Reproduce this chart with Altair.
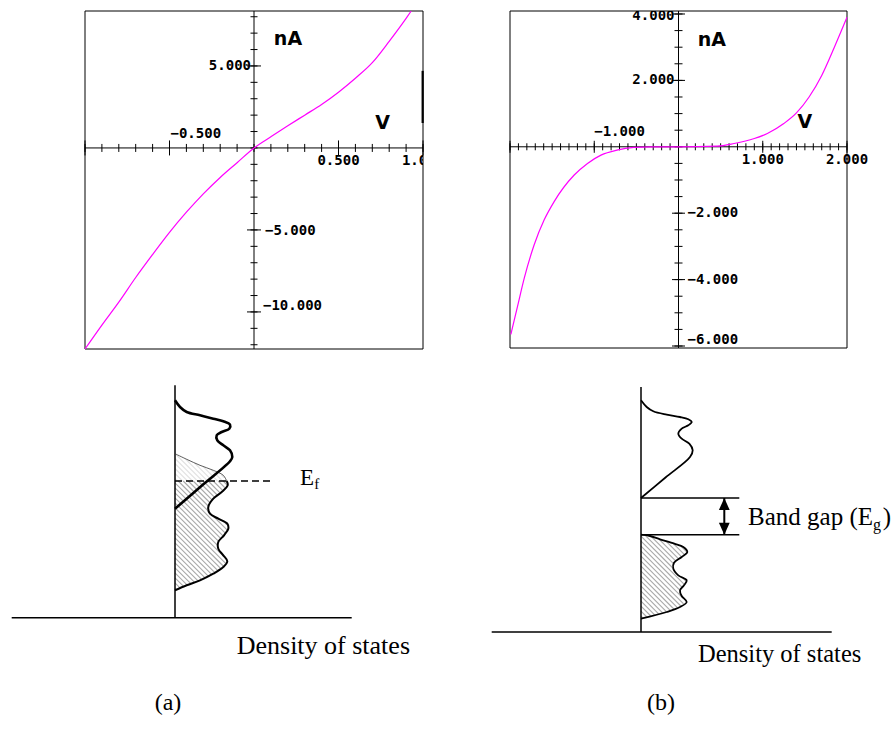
import altair as alt
import pandas as pd
import numpy as np

# ---------------- data ----------------
# (a) I-V curve (V in volts, I in nA)
iva_V = [-1.0, -0.9, -0.8, -0.7, -0.6, -0.5, -0.4, -0.3, -0.2, -0.1, 0.0,
         0.1, 0.2, 0.3, 0.4, 0.5, 0.6, 0.7, 0.8, 0.9, 0.93]
iva_I = [-12.26, -10.8, -9.4, -7.9, -6.5, -5.15, -3.92, -2.8, -1.8, -0.9, 0.0,
         0.68, 1.35, 2.0, 2.65, 3.4, 4.25, 5.2, 6.5, 7.9, 8.35]
iva_bar_V = [0.998, 0.998]
iva_bar_I = [4.7, 1.52]
iva_xdom = [-1.0, 1.0]
iva_ydom = [-12.26, 8.35]
iva_xminor = [round(-1 + 0.1 * i, 1) for i in range(21)]
iva_xmajor = [-1.0, -0.5, 0.5, 1.0]
iva_yminor = list(range(-12, 9))
iva_ymajor = [-10, -5, 5]
iva_ylab_left = ["5.000"]
iva_ylab_right = ["−5.000", "−10.000"]
iva_xlab = ["−0.500", "0.500", "1.000"]

# (b) I-V curve
ivb_V = [-1.99, -1.91, -1.83, -1.713, -1.594, -1.476, -1.238, -1.08, -0.92, -0.73, -0.53,
         -0.33, 0.0, 0.46, 0.66, 0.9, 1.055, 1.25, 1.4, 1.55, 1.7, 1.85, 2.0]
ivb_I = [-5.65, -4.8, -3.95, -2.95, -2.2, -1.65, -0.85, -0.5, -0.25, -0.1, -0.02,
         0.0, 0.0, 0.02, 0.1, 0.25, 0.4, 0.7, 1.02, 1.5, 2.15, 3.0, 3.9]
ivb_xdom = [-2.0, 2.0]
ivb_ydom = [-6.06, 4.09]
ivb_xminor = [round(-2 + 0.1 * i, 1) for i in range(41)]
ivb_xmajor = [-2.0, -1.0, 1.0, 2.0]
ivb_yminor = [round(-6 + 0.5 * i, 1) for i in range(21)]
ivb_ymajor = [-6, -4, -2, 2, 4]
ivb_ylab_left = ["4.000", "2.000"]
ivb_ylab_right = ["−2.000", "−4.000", "−6.000"]
ivb_xlab = ["−1.000", "1.000", "2.000"]

# (a) density of states schematic (arbitrary units)
dosa_up_x = [0, 0.1, 0.234, 0.5, 0.766, 0.966, 1.1, 1.086, 0.934, 0.834, 0.846, 0.966,
             1.1, 1.146, 1.1, 0.55, 0]
dosa_up_E = [4.348, 4.214, 4.114, 4.048, 3.98, 3.928, 3.86, 3.78, 3.714, 3.648, 3.548,
             3.448, 3.348, 3.214, 3.128, 2.654, 2.18]
dosa_thin_x = [0, 0.234, 0.5, 0.766, 0.966, 1.034]
dosa_thin_E = [3.28, 3.168, 3.048, 2.948, 2.848, 2.734]
dosa_low_x = [1.034, 1.054, 0.934, 0.766, 0.666, 0.7, 0.866, 1.046, 1.066, 0.98, 0.866,
              0.866, 0.966, 1.046, 0.966, 0.766, 0.5, 0.234, 0]
dosa_low_E = [2.734, 2.648, 2.514, 2.38, 2.214, 2.08, 1.98, 1.88, 1.78, 1.648, 1.514,
              1.38, 1.248, 1.128, 1.014, 0.88, 0.748, 0.648, 0.548]
dosa_Ef = 2.734
dosa_axis_top = 4.648
dosa_base = [-3.266, 3.534]

# (b) density of states schematic
dosb_up_x = [0, 0.114, 0.246, 0.514, 0.78, 0.946, 1.014, 0.946, 0.814, 0.746, 0.814,
             0.966, 1.034, 0.98, 0.49, 0]
dosb_up_E = [4.634, 4.5, 4.414, 4.346, 4.3, 4.254, 4.2, 4.134, 4.066, 3.966, 3.866,
             3.766, 3.634, 3.5, 3.09, 2.68]
dosb_low_x = [0, 0.18, 0.38, 0.666, 0.846, 0.926, 0.814, 0.66, 0.646, 0.746, 0.914,
              0.86, 0.78, 0.814, 0.914, 0.78, 0.514, 0]
dosb_low_E = [1.946, 1.92, 1.854, 1.766, 1.7, 1.6, 1.5, 1.386, 1.266, 1.134, 1.034,
              0.934, 0.834, 0.72, 0.6, 0.5, 0.4, 0.266]
dosb_gap = [1.946, 2.68]
dosb_gap_len = 1.966
dosb_arrow_x = 1.666
dosb_axis_top = 4.9
dosb_base = [-2.986, 3.814]

MONO = "DejaVu Sans Mono"
SANS = "DejaVu Sans"
SERIF = "Liberation Serif"


class Panel:
    def __init__(self, xdom, ydom, w, h):
        self.xs = alt.Scale(domain=xdom, nice=False, zero=False)
        self.ys = alt.Scale(domain=ydom, nice=False, zero=False)
        self.xdom, self.ydom, self.w, self.h = xdom, ydom, w, h
        self.ppx = w / (xdom[1] - xdom[0])
        self.ppy = h / (ydom[1] - ydom[0])
        self.layers = []

    def X(self, f):
        return alt.X(f, type="quantitative", scale=self.xs, axis=None)

    def Y(self, f):
        return alt.Y(f, type="quantitative", scale=self.ys, axis=None)

    def add(self, c):
        self.layers.append(c)

    def chart(self):
        return alt.layer(*self.layers).properties(width=self.w, height=self.h)


def curve(p, xs, ys, width, color="black", interp="catmull-rom", dash=None):
    df = pd.DataFrame({"x": xs, "y": ys, "i": list(range(len(xs)))})
    kw = dict(color=color, strokeWidth=width, interpolate=interp)
    if dash:
        kw["strokeDash"] = dash
    p.add(alt.Chart(df).mark_line(**kw).encode(x=p.X("x"), y=p.Y("y"), order="i:Q"))


def xticks(p, xs, half):
    h = half / p.ppy
    df = pd.DataFrame({"x": xs, "y0": [-h] * len(xs), "y1": [h] * len(xs)})
    p.add(alt.Chart(df).mark_rule(color="black", strokeWidth=1)
          .encode(x=p.X("x"), y=p.Y("y0"), y2="y1"))


def yticks(p, ys, half):
    h = half / p.ppx
    df = pd.DataFrame({"y": ys, "x0": [-h] * len(ys), "x1": [h] * len(ys)})
    p.add(alt.Chart(df).mark_rule(color="black", strokeWidth=1)
          .encode(y=p.Y("y"), x=p.X("x0"), x2="x1"))


def label(p, text, x, y, size, font, weight="normal", align="center", baseline="middle",
          dx=0, dy=0, clip=False):
    df = pd.DataFrame({"x": [x], "y": [y], "t": [text]})
    kw = dict(font=font, fontSize=size, fontWeight=weight, align=align, baseline=baseline,
              dx=dx, dy=dy, color="black")
    if clip:
        kw["clip"] = True
    p.add(alt.Chart(df).mark_text(**kw).encode(x=p.X("x"), y=p.Y("y"), text="t:N"))


def frame(p):
    df = pd.DataFrame({"x0": [p.xdom[0]], "x1": [p.xdom[1]], "y0": [p.ydom[0]], "y1": [p.ydom[1]]})
    p.add(alt.Chart(df).mark_rect(filled=False, color="black", strokeWidth=1)
          .encode(x=p.X("x0"), x2="x1", y=p.Y("y0"), y2="y1"))


def hatch(p, xs, ys, spacing=0.1, opacity=1.0, color="#a8a8a8", width=1.1):
    """Diagonal hatching of the region between the energy axis (x=0) and the DOS curve."""
    E = np.asarray(ys, float)
    Xv = np.asarray(xs, float)
    o = np.argsort(E)
    Es, Xs = E[o], Xv[o]
    emin, emax, xmax = Es[0], Es[-1], Xs.max()
    step = 0.004
    xx = np.arange(0, xmax + step, step)
    rows = []
    for c in np.arange(emin + spacing / 2, emax + xmax, spacing):
        ee = c - xx
        inside = (ee >= emin) & (ee <= emax) & (xx <= np.interp(ee, Es, Xs) - 0.01)
        idx = np.flatnonzero(inside)
        if idx.size == 0:
            continue
        breaks = np.flatnonzero(np.diff(idx) > 1)
        starts = np.concatenate([[idx[0]], idx[breaks + 1]])
        ends = np.concatenate([idx[breaks], [idx[-1]]])
        for s, e in zip(starts, ends):
            if e > s:
                rows.append({"x": xx[s], "y": c - xx[s], "x2": xx[e], "y2": c - xx[e]})
    df = pd.DataFrame(rows)
    p.add(alt.Chart(df).mark_rule(color=color, strokeWidth=width, opacity=opacity)
          .encode(x=p.X("x"), y=p.Y("y"), x2="x2", y2="y2"))


# ---------------- I-V panel (a) ----------------
A = Panel(iva_xdom, iva_ydom, 338, 338)
frame(A)
curve(A, iva_xdom, [0, 0], 1, interp="linear")
curve(A, [0, 0], iva_ydom, 1, interp="linear")
xticks(A, iva_xminor, 4)
xticks(A, iva_xmajor, 7.5)
yticks(A, iva_yminor, 3.5)
yticks(A, iva_ymajor, 7)
curve(A, iva_bar_V, iva_bar_I, 2.2, interp="linear")
curve(A, iva_V, iva_I, 1.2, color="#ff00ff", interp="monotone")
label(A, iva_ylab_left[0], 0, 5, 14, MONO, "bold", "right", dx=-3)
label(A, iva_ylab_right[0], 0, -5, 14, MONO, "bold", "left", dx=11, dy=1)
label(A, iva_ylab_right[1], 0, -10, 14, MONO, "bold", "left", dx=9, dy=-6)
label(A, iva_xlab[0], -0.5, 0, 14, MONO, "bold", "left", dx=1, dy=-14)
label(A, iva_xlab[1], 0.5, 0, 14, MONO, "bold", "center", dy=13)
label(A, iva_xlab[2], 1.0, 0, 14, MONO, "bold", "center", dy=13, clip=True)
label(A, "nA", 0.201, 6.65, 19, SANS, "bold")
label(A, "V", 0.761, 1.52, 19, SANS, "bold")

# ---------------- I-V panel (b) ----------------
B = Panel(ivb_xdom, ivb_ydom, 337, 337)
frame(B)
curve(B, ivb_xdom, [0, 0], 1, interp="linear")
curve(B, [0, 0], ivb_ydom, 1, interp="linear")
xticks(B, ivb_xminor, 3.5)
xticks(B, ivb_xmajor, 6)
yticks(B, ivb_yminor, 4)
yticks(B, ivb_ymajor, 6.5)
curve(B, ivb_V, ivb_I, 1.2, color="#ff00ff", interp="monotone")
label(B, ivb_ylab_left[0], 0, 4, 14, MONO, "bold", "right", dx=-4, dy=2, clip=True)
label(B, ivb_ylab_left[1], 0, 2, 14, MONO, "bold", "right", dx=-4)
label(B, ivb_ylab_right[0], 0, -2, 14, MONO, "bold", "left", dx=9)
label(B, ivb_ylab_right[1], 0, -4, 14, MONO, "bold", "left", dx=9)
label(B, ivb_ylab_right[2], 0, -6, 14, MONO, "bold", "left", dx=9, dy=-6)
label(B, ivb_xlab[0], -1.0, 0, 14, MONO, "bold", "left", dx=0, dy=-15)
label(B, ivb_xlab[1], 1.0, 0, 14, MONO, "bold", "center", dy=13)
label(B, ivb_xlab[2], 2.0, 0, 14, MONO, "bold", "center", dy=13)
label(B, "nA", 0.395, 3.21, 19, SANS, "bold")
label(B, "V", 1.5, 0.75, 19, SANS, "bold")

# ---------------- DOS panel (a) ----------------
C = Panel([-3.5, 5.46], [-2.646, 5.314], 448, 398)
hatch(C, dosa_thin_x, dosa_thin_E, opacity=0.35)
hatch(C, dosa_low_x, dosa_low_E)
curve(C, dosa_base, [0, 0], 1.5, interp="linear")
curve(C, [0, 0], [0, dosa_axis_top], 1.5, interp="linear")
curve(C, dosa_thin_x, dosa_thin_E, 0.8, color="#333333")
curve(C, dosa_low_x, dosa_low_E, 2.0)
curve(C, dosa_up_x, dosa_up_E, 2.6)
curve(C, [0, 1.934], [dosa_Ef, dosa_Ef], 1.5, interp="linear", dash=[7, 4])
label(C, "E", 2.5, 2.66, 23, SERIF, align="left", baseline="alphabetic")
label(C, "f", 2.786, 2.58, 15, SERIF, align="left", baseline="alphabetic")
label(C, "Density of states", 1.234, -0.72, 26, SERIF, align="left", baseline="alphabetic")
label(C, "(a)", -0.14, -1.846, 24, SERIF, align="center", baseline="alphabetic")

# ---------------- DOS panel (b) ----------------
D = Panel([-3.86, 5.1], [-2.36, 5.6], 448, 398)
hatch(D, dosb_low_x, dosb_low_E)
curve(D, dosb_base, [0, 0], 1.5, interp="linear")
curve(D, [0, 0], [0, dosb_axis_top], 1.5, interp="linear")
curve(D, dosb_low_x, dosb_low_E, 1.8)
curve(D, dosb_up_x, dosb_up_E, 1.8)
curve(D, [0, dosb_gap_len], [dosb_gap[1], dosb_gap[1]], 1.5, interp="linear")
curve(D, [0, dosb_gap_len], [dosb_gap[0], dosb_gap[0]], 1.5, interp="linear")
curve(D, [dosb_arrow_x, dosb_arrow_x], dosb_gap, 2.0, interp="linear")
heads = pd.DataFrame({"x": [dosb_arrow_x], "y": [dosb_gap[1]]})
D.add(alt.Chart(heads).mark_point(shape="M0,0L-0.45,1L0.45,1Z", size=576, filled=True,
                                  color="black", opacity=1).encode(x=D.X("x"), y=D.Y("y")))
heads2 = pd.DataFrame({"x": [dosb_arrow_x], "y": [dosb_gap[0]]})
D.add(alt.Chart(heads2).mark_point(shape="M0,0L-0.45,-1L0.45,-1Z", size=576, filled=True,
                                   color="black", opacity=1).encode(x=D.X("x"), y=D.Y("y")))
label(D, "Band gap (E", 4.64, 2.134, 25, SERIF, align="right", baseline="alphabetic")
label(D, "g", 4.64, 2.04, 16, SERIF, align="left", baseline="alphabetic")
label(D, ")", 4.834, 2.134, 25, SERIF, align="left", baseline="alphabetic")
label(D, "Density of states", 1.14, -0.6, 24.5, SERIF, align="left", baseline="alphabetic")
label(D, "(b)", 0.4, -1.56, 24, SERIF, align="center", baseline="alphabetic")


def spacer(w, h):
    return alt.Chart(pd.DataFrame({"a": []})).mark_point(opacity=0).properties(width=w, height=h)


row1 = alt.hconcat(spacer(85, 1), A.chart(), spacer(87, 1), B.chart(),
                   spacing=0, bounds="flush")
row2 = alt.hconcat(C.chart(), D.chart(), spacing=0, bounds="flush")

chart = alt.vconcat(row1, row2, spacing=0).properties(
    padding={"left": 0, "top": 8, "right": 0, "bottom": 0},
    background="white",
).configure_view(strokeWidth=0)

chart.save("out.html", embed_options={"renderer": "svg", "actions": False})
